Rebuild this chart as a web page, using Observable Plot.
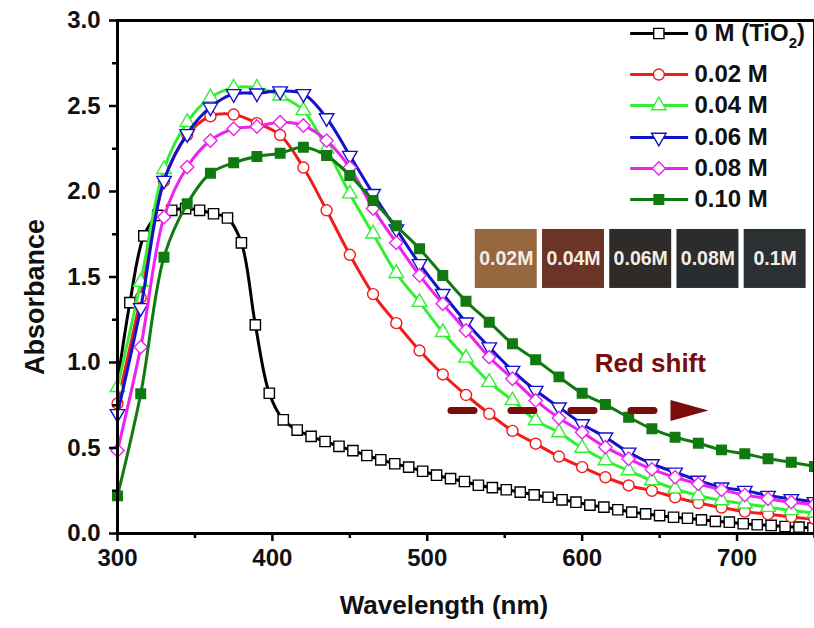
<!DOCTYPE html>
<html>
<head>
<meta charset="utf-8">
<script src="https://cdn.jsdelivr.net/npm/d3@7"></script>
<script src="https://cdn.jsdelivr.net/npm/@observablehq/plot@0.6"></script>
<style>
  body { margin: 0; background: #ffffff; }
  #chart svg { display: block; }
</style>
</head>
<body>
<div id="chart"></div>
<script>
// ---------------- DATA ----------------
// 0 M (TiO2): wavelength (nm) and absorbance
const wavelengthTiO2 = [300, 308, 317, 326, 335, 344, 353, 362, 371, 380, 389, 398, 407, 416, 425, 434, 443, 452, 461, 470,
  479, 488, 497, 506, 515, 524, 533, 542, 551, 560, 569, 578, 587, 596, 605, 614, 623, 632, 641, 650,
  659, 668, 677, 686, 695, 704, 713, 722, 731, 740, 749];
const absTiO2 = [0.88, 1.35, 1.74, 1.86, 1.89, 1.90, 1.89, 1.87, 1.845, 1.70, 1.22, 0.82, 0.665, 0.605, 0.568, 0.538, 0.51, 0.485, 0.456, 0.431,
  0.408, 0.388, 0.364, 0.341, 0.321, 0.304, 0.282, 0.268, 0.256, 0.242, 0.226, 0.212, 0.197, 0.183, 0.166, 0.154, 0.139, 0.125, 0.115, 0.105,
  0.095, 0.089, 0.080, 0.071, 0.066, 0.057, 0.051, 0.047, 0.041, 0.037, 0.032];

// doped samples: common wavelength grid (nm)
const wavelength = [300, 315, 330, 345, 360, 375, 390, 405, 420, 435, 450, 465, 480, 495, 510, 525, 540, 555, 570, 585,
  600, 615, 630, 645, 660, 675, 690, 705, 720, 735, 750];
const abs002 = [0.76, 1.38, 2.06, 2.33, 2.44, 2.45, 2.40, 2.33, 2.14, 1.89, 1.63, 1.40, 1.23, 1.07, 0.93, 0.81, 0.70, 0.60, 0.525, 0.45,
  0.388, 0.329, 0.281, 0.25, 0.212, 0.178, 0.152, 0.128, 0.113, 0.097, 0.085];
const abs004 = [0.855, 1.47, 2.13, 2.405, 2.55, 2.606, 2.606, 2.56, 2.474, 2.25, 1.987, 1.753, 1.522, 1.353, 1.177, 1.027, 0.885, 0.778, 0.661, 0.59,
  0.50, 0.427, 0.368, 0.31, 0.261, 0.222, 0.193, 0.174, 0.154, 0.135, 0.12];
const abs006 = [0.70, 1.32, 2.064, 2.337, 2.493, 2.571, 2.575, 2.587, 2.571, 2.43, 2.21, 1.987, 1.78, 1.577, 1.402, 1.236, 1.09, 0.953, 0.836, 0.739,
  0.641, 0.563, 0.475, 0.407, 0.358, 0.31, 0.271, 0.251, 0.222, 0.203, 0.185];
const abs008 = [0.485, 1.09, 1.85, 2.143, 2.298, 2.367, 2.38, 2.405, 2.386, 2.298, 2.14, 1.90, 1.70, 1.509, 1.343, 1.187, 1.031, 0.905, 0.778, 0.675,
  0.592, 0.505, 0.437, 0.375, 0.329, 0.29, 0.255, 0.225, 0.203, 0.183, 0.17];
const abs010 = [0.22, 0.817, 1.616, 1.928, 2.107, 2.168, 2.205, 2.224, 2.259, 2.21, 2.094, 1.947, 1.80, 1.665, 1.509, 1.358, 1.236, 1.109, 1.016, 0.916,
  0.82, 0.754, 0.68, 0.612, 0.563, 0.528, 0.489, 0.466, 0.437, 0.417, 0.392];

const seriesNames = ["0 M (TiO2)", "0.02 M", "0.04 M", "0.06 M", "0.08 M", "0.10 M"];
const swatchLabels = ["0.02M", "0.04M", "0.06M", "0.08M", "0.1M"];
const xTicks = [300, 400, 500, 600, 700];
const xMinorTicks = [350, 450, 550, 650, 750];
const yTicks = [0, 0.5, 1.0, 1.5, 2.0, 2.5, 3.0];
const yMinorTicks = [0.25, 0.75, 1.25, 1.75, 2.25, 2.75];
const annotationText = "Red shift";

// ---------------- STYLES / LAYOUT ----------------
const FONT = "'Liberation Sans', Arial, Helvetica, sans-serif";
const styles = [
  {color: "#000000", symbol: "square",   r: 5.8, fill: "#ffffff", rotate: 0},
  {color: "#F21C1C", symbol: "circle",   r: 5.5, fill: "#ffffff", rotate: 0},
  {color: "#33EE33", symbol: "triangle", r: 5.4, fill: "#ffffff", rotate: 0},
  {color: "#1212C8", symbol: "triangle", r: 5.4, fill: "#ffffff", rotate: 180},
  {color: "#EE22EE", symbol: "diamond2", r: 6.0, fill: "#ffffff", rotate: 0},
  {color: "#107A10", symbol: "square",   r: 5.4, fill: "#107A10", rotate: 0}
];
const swatchColors = ["#976840", "#6C3426", "#2E2B28", "#2A2D30", "#2C3032"];
const darkRed = "#7A0C0C";

// legend layout (data units)
const legendRowY = [2.924, 2.684, 2.503, 2.316, 2.135, 1.953];
const legendLineX = [631, 668.4];
const legendMarkX = 649.5;
const legendTextX = 672.5;

// build series rows
const seriesValues = [absTiO2, abs002, abs004, abs006, abs008, abs010];
const series = seriesValues.map((vals, i) => {
  const wl = i === 0 ? wavelengthTiO2 : wavelength;
  return wl.map((w, j) => ({wl: w, a: vals[j], marker: !(i === 0 && j === 0)}));
});

const marks = [];

// swatches (photographs of samples)
const swatches = swatchLabels.map((label, i) => ({label, i}));
marks.push(
  Plot.rect(swatches, {
    x1: d => 531 + d.i * 43.4, x2: d => 571 + d.i * 43.4,
    y1: 1.433, y2: 1.778, fill: d => swatchColors[d.i]
  }),
  Plot.text(swatches, {
    x: d => 551 + d.i * 43.4, y: 1.605, text: "label",
    fill: "#F3ECE6", fontSize: 19.5, fontWeight: "bold", fontFamily: FONT
  })
);

// series
series.forEach((rows, i) => {
  const s = styles[i];
  marks.push(
    Plot.line(rows, {x: "wl", y: "a", stroke: s.color, strokeWidth: 3, curve: "catmull-rom"}),
    Plot.dot(rows.filter(d => d.marker), {
      x: "wl", y: "a", symbol: s.symbol, r: s.r, rotate: s.rotate,
      stroke: s.color, fill: s.fill, strokeWidth: 1.4
    })
  );
});

// legend
seriesNames.forEach((name, i) => {
  const s = styles[i];
  const yy = [legendRowY[i]];
  marks.push(
    Plot.link(yy, {x1: legendLineX[0], x2: legendLineX[1], y1: d => d, y2: d => d, stroke: s.color, strokeWidth: 3}),
    Plot.dot(yy, {x: legendMarkX, y: d => d, symbol: s.symbol, r: s.r, rotate: s.rotate, stroke: s.color, fill: s.fill, strokeWidth: 1.4}),
    Plot.text(yy, {x: legendTextX, y: d => d, text: () => name, textAnchor: "start",
      fontSize: 24, fontWeight: "bold", fontFamily: FONT, fill: "#111111"})
  );
});

// red shift annotation
const arrowHead = {
  draw(ctx) {
    ctx.moveTo(19, 0);
    ctx.lineTo(-19, -10.5);
    ctx.lineTo(-19, 10.5);
    ctx.closePath();
  }
};
marks.push(
  Plot.link([0], {x1: 515.3, x2: 655, y1: 0.719, y2: 0.719, stroke: darkRed, strokeWidth: 7,
    strokeDasharray: "23,37", strokeLinecap: "round"}),
  Plot.dot([0], {x: 669.3, y: 0.719, symbol: arrowHead, fill: darkRed, stroke: "none", r: 10}),
  Plot.text([annotationText], {x: 644, y: 0.994, text: d => d, fill: darkRed,
    fontSize: 26, fontWeight: "bold", fontFamily: FONT})
);

// axes
marks.push(
  Plot.axisY({ticks: yTicks, tickFormat: d3.format(".1f"), tickSize: 8, tickPadding: 9, strokeWidth: 2.5,
    fontSize: 24, fontWeight: "bold", fontFamily: FONT, label: null, fill: "#111"}),
  Plot.axisY({ticks: yMinorTicks, tickFormat: () => "", tickSize: 5, strokeWidth: 2.5, label: null}),
  Plot.axisX({ticks: xTicks, tickSize: 8, tickPadding: 7, strokeWidth: 2.5,
    fontSize: 24, fontWeight: "bold", fontFamily: FONT, label: null, fill: "#111"}),
  Plot.axisX({ticks: xMinorTicks, tickFormat: () => "", tickSize: 5, strokeWidth: 2.5, label: null}),
  Plot.frame({stroke: "#000", strokeWidth: 3}),
  Plot.text(["Wavelength (nm)"], {frameAnchor: "bottom", dx: -22, dy: 72, text: d => d,
    textAnchor: "middle", lineAnchor: "middle",
    fontSize: 26, fontWeight: "bold", fontFamily: FONT, fill: "#111"}),
  Plot.text(["Absorbance"], {frameAnchor: "left", dx: -82, dy: 20, rotate: -90, text: d => d,
    textAnchor: "middle", lineAnchor: "middle",
    fontSize: 27, fontWeight: "bold", fontFamily: FONT, fill: "#111"})
);

const chart = Plot.plot({
  width: 814,
  height: 628,
  marginLeft: 117,
  marginRight: 0,
  marginTop: 20,
  marginBottom: 95,
  x: {domain: [300, 750]},
  y: {domain: [0, 3]},
  color: {type: "identity"},
  style: {fontFamily: FONT, background: "#ffffff", color: "#000", overflow: "visible"},
  marks
});

// subscript "2" in TiO2 legend entry
chart.querySelectorAll("text").forEach(t => {
  if (t.textContent === "0 M (TiO2)") {
    t.textContent = "";
    const ns = "http://www.w3.org/2000/svg";
    const a = document.createElementNS(ns, "tspan"); a.textContent = "0 M (TiO";
    const b = document.createElementNS(ns, "tspan"); b.textContent = "2";
    b.setAttribute("dy", "7"); b.setAttribute("font-size", "15");
    const c = document.createElementNS(ns, "tspan"); c.textContent = ")";
    c.setAttribute("dy", "-7");
    t.append(a, b, c);
  }
});

document.getElementById("chart").appendChild(chart);
</script>
</body>
</html>
